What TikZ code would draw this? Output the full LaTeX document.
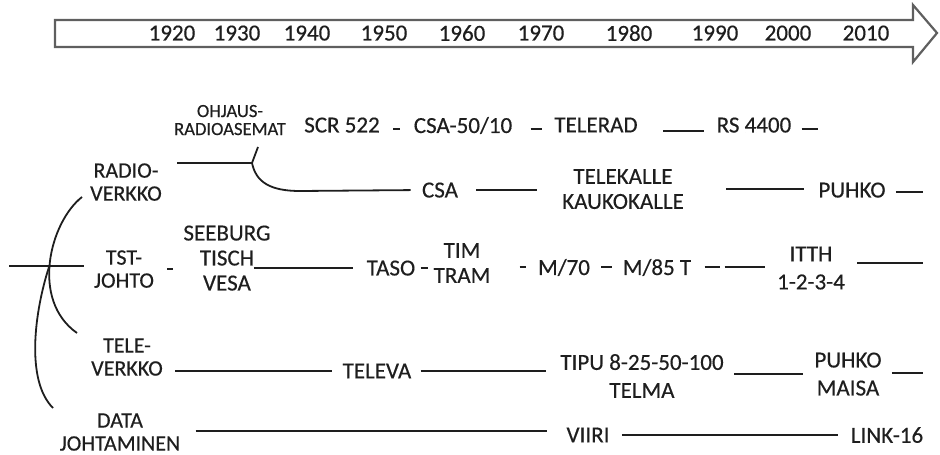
\documentclass[tikz,border=0pt]{standalone}
\usepackage{fontspec}
\setmainfont{Carlito}[FakeBold=0.4]
\definecolor{ink}{RGB}{30,30,30}
\definecolor{arrowgray}{RGB}{95,95,95}

\begin{document}
\begin{tikzpicture}[x=0.5pt,y=-0.5pt,
          every node/.style={inner sep=0pt,align=center,text=ink,text depth=0pt},
          item/.style={font=\fontsize{11.5}{12.5}\selectfont},
          loose/.style={font=\fontsize{11.5}{14}\selectfont},
          side/.style={font=\fontsize{11}{11.5}\selectfont},
          small/.style={font=\fontsize{9.3}{9}\selectfont},
          link/.style={draw=ink,line width=0.9pt}]
        \useasboundingbox (0,0) rectangle (940,454);
        % time axis
        \draw[arrowgray,line width=1.1pt,line join=miter]
          (55,20) -- (913,20) -- (913,5) -- (937,33) -- (913,62) -- (913,47) -- (55,47) -- cycle;
        \foreach \x/\yr in {172/1920,237/1930,307/1940,384/1950,462/1960,
                            541/1970,629/1980,715/1990,788/2000,866/2010}
          \node[item] (y\yr) at (\x,33) {\yr};

        % radio
        \node[small] (ohjaus) at (230,120) {OHJAUS-\\RADIOASEMAT};
        \node[item] (scr)     at (342,125) {SCR 522};
        \node[item] (csa5)    at (463,125) {CSA-50/10};
        \node[item] (telerad) at (596,125) {TELERAD};
        \node[item] (rs)      at (754,125) {RS 4400};
        \coordinate (rsend)   at (818,129);
        \node[side] (radio)   at (126,182) {RADIO-\\VERKKO};
        \coordinate (fork)    at (252,163);
        \coordinate (forktop) at (258,147);
        \node[item] (csa)     at (440,190) {CSA};
        \node[item] (tkalle)  at (623,189) {TELEKALLE\\KAUKOKALLE};
        \node[item] (puhko)   at (852,190) {PUHKO};
        \coordinate (puhkoend) at (923,192);

        % wire
        \coordinate (tstbeg)  at (9,266);
        \node[side] (tst)     at (124,269) {TST-\\JOHTO};
        \node[item] (seeburg) at (227,258) {SEEBURG\\TISCH\\VESA};
        \node[item] (taso)    at (391,268) {TASO};
        \node[item] (tim)     at (462,263) {TIM\\TRAM};
        \node[item] (m70)     at (564,267) {M/70};
        \node[item] (m85)     at (657,267) {M/85 T};
        \node[loose] (itth)   at (811,268) {ITTH\\1-2-3-4};
        \coordinate (itthend) at (923,263);

        % tele
        \node[side] (tele)    at (127,357) {TELE-\\VERKKO};
        \node[item] (televa)  at (377,371) {TELEVA};
        \node[loose] (tipu)   at (642,376) {TIPU 8-25-50-100\\TELMA};
        \node[loose] (puhko2) at (848,374) {PUHKO\\MAISA};
        \coordinate (puhko2end) at (923,373);

        % data
        \node[side] (data)    at (120,432) {DATA\\JOHTAMINEN};
        \node[item] (viiri)   at (588,435) {VIIRI};
        \node[item] (link16)  at (887,435) {LINK-16};

        \coordinate (ca1) at (82,197);  \coordinate (ca2) at (77,333);
        \coordinate (cross) at (49,267); \coordinate (cb2) at (53,408);

        \draw[link,shorten <=6.5pt,shorten >=6.5pt] ([yshift=-2pt]scr.east) -- ([yshift=-2pt]csa5.west);
        \draw[link,shorten <=9pt,shorten >=6pt] ([yshift=-2pt]csa5.east) -- ([yshift=-2pt]telerad.west);
        \draw[link,shorten <=12.5pt,shorten >=6pt] ([yshift=-3pt]telerad.east) -- ([yshift=-3pt]rs.west);
        \draw[link,shorten <=5pt] (rs.east |- rsend) -- (rsend);

        \draw[link,shorten <=7.5pt] (radio.east |- fork) -- (fork);
        \draw[link] (fork) -- (forktop);
        \draw[link,shorten >=5.5pt] (fork) .. controls (256,182) and (270,191) .. (300,191) -- (csa.west);
        \draw[link,shorten <=9pt,shorten >=12.5pt] (csa.east) -- (csa.east -| tkalle.west);
        \draw[link,shorten <=21pt,shorten >=7pt] (tkalle.east) -- (tkalle.east -| puhko.west);
        \draw[link,shorten <=5pt] (puhko.east |- puhkoend) -- (puhkoend);

        \draw[link,shorten >=5pt] (tstbeg) -- (tstbeg -| tst.west);
        \draw[link,shorten <=6.5pt,shorten >=5pt] (tst.east) -- (tst.east -| seeburg.west);
        \draw[link,shorten <=-8.5pt,shorten >=6.5pt] (taso.west -| seeburg.east) -- (taso.west);
        \draw[link,shorten <=2.5pt,shorten >=2.5pt] (taso.east) -- (taso.east -| tim.west);
        \draw[link,shorten <=14.5pt,shorten >=6pt] (m70.west -| tim.east) -- (m70.west);
        \draw[link,shorten <=5.5pt,shorten >=5pt] (m70.east) -- (m85.west);
        \draw[link,shorten <=6.5pt,shorten >=28.5pt] (m85.east) -- (m85.east -| itth.west);
        \draw[link,shorten <=16.5pt,shorten >=6pt] (m85.east) -- (m85.east -| itth.west);
        \draw[link,shorten <=6pt] (itth.east |- itthend) -- (itthend);

        \draw[link,shorten <=6pt,shorten >=5pt] (televa.west -| tele.east) -- (televa.west);
        \draw[link,shorten <=4.5pt,shorten >=7pt] (televa.east) -- (televa.east -| tipu.west);
        \draw[link,shorten <=5pt,shorten >=5.5pt] (puhko2.west -| tipu.east) -- (puhko2.west);
        \draw[link,shorten <=5pt] (puhko2.east |- puhko2end) -- (puhko2end);

        \draw[link,shorten <=7.5pt,shorten >=9.5pt] ([yshift=2pt]viiri.west -| data.east) -- ([yshift=2pt]viiri.west);
        \draw[link,shorten <=6pt,shorten >=6.5pt] (viiri.east) -- (link16.west);

        \draw[link] (ca1) .. controls (50,222) and (30,300) .. (ca2);
        \draw[link] (cross) .. controls (35,310) and (25,380) .. (cb2);
      \end{tikzpicture}
\end{document}
